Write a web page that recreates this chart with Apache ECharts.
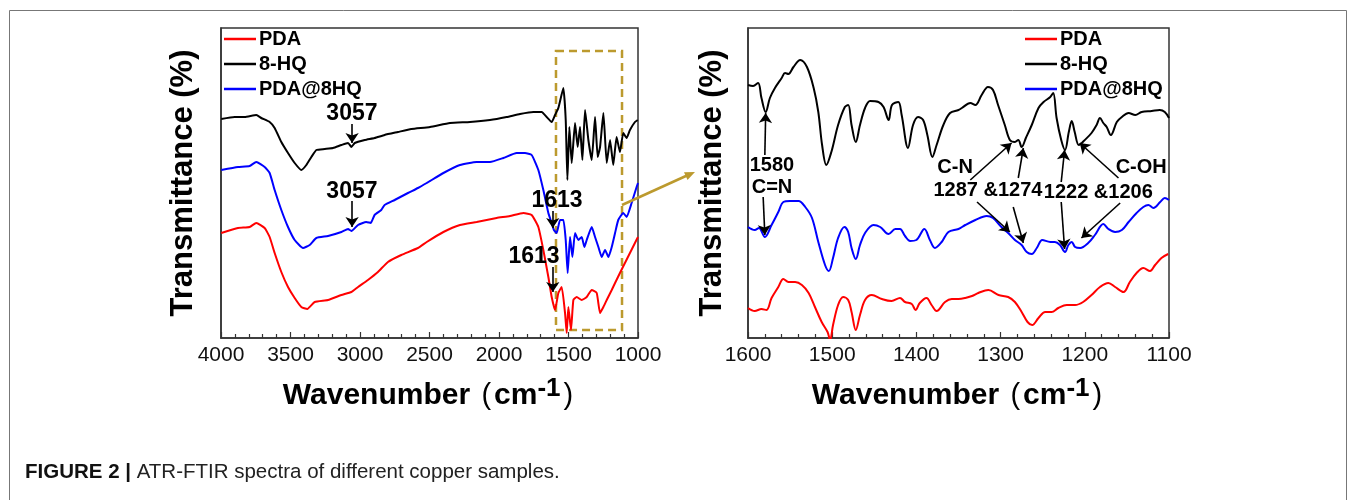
<!DOCTYPE html>
<html>
<head>
<meta charset="utf-8">
<script src="https://cdn.jsdelivr.net/npm/echarts@6/dist/echarts.min.js"></script>
<style>
	html, body { margin: 0; padding: 0; background: #fff; }
	#chart { width: 1355px; height: 500px; }
</style>
</head>
<body>
<div id="chart"></div>
<script>
// spectra: [wavenumber, transmittance (offset, a.u.)]
const seriesNames = ['PDA', '8-HQ', 'PDA@8HQ'];
const seriesColors = ['#ff0000', '#000000', '#0000ff'];

const fullPDA = [[3998,105],[3878,110],[3794,111],[3746,115],[3686,110],[3650,101],[3614,85],[3566,66],[3518,51],[3470,40],[3422,31],[3379,29],[3326,36],[3230,38],[3134,43],[3062,46],[3014,51],[2943,58],[2871,66],[2799,76],[2703,83],[2583,90],[2520,96],[2400,106],[2281,113],[2161,116],[2017,120],[1921,122],[1825,125],[1765,123],[1717,111],[1681,88],[1645,61],[1621,41],[1597,28],[1573,45],[1549,51],[1525,25],[1513,5],[1501,31],[1482,8],[1465,38],[1441,41],[1405,38],[1369,41],[1333,48],[1297,45],[1273,25],[1249,31],[1225,38],[1189,48],[1165,55],[1130,65],[1094,75],[1058,85],[1022,95],[1000,101]];
const fullHQ = [[3998,219],[3902,221],[3830,221],[3746,223],[3710,220],[3650,216],[3614,210],[3566,196],[3518,185],[3470,175],[3422,168],[3386,173],[3350,181],[3314,188],[3254,189],[3194,190],[3134,193],[3086,195],[3062,191],[3038,195],[2966,198],[2895,200],[2823,203],[2727,206],[2631,209],[2496,211],[2353,215],[2209,216],[2065,218],[1945,221],[1849,224],[1753,226],[1693,226],[1657,221],[1621,216],[1597,223],[1573,230],[1537,250],[1520,218],[1508,158],[1494,211],[1477,175],[1453,215],[1434,191],[1417,211],[1400,178],[1381,228],[1357,198],[1333,178],[1309,221],[1290,181],[1273,191],[1249,225],[1225,175],[1201,198],[1178,173],[1154,201],[1130,186],[1106,205],[1082,200],[1058,208],[1022,216],[1002,218]];
const fullMix = [[3998,168],[3878,171],[3794,172],[3746,176],[3686,171],[3650,165],[3614,148],[3566,128],[3518,111],[3470,98],[3410,90],[3362,93],[3314,100],[3230,102],[3134,106],[3086,109],[3062,107],[3014,113],[2955,116],[2923,115],[2895,123],[2847,128],[2823,133],[2751,138],[2655,145],[2583,150],[2520,155],[2400,165],[2281,173],[2161,176],[2065,176],[1969,180],[1873,185],[1813,185],[1765,183],[1717,168],[1681,148],[1645,125],[1621,115],[1605,108],[1585,105],[1561,118],[1537,118],[1520,98],[1506,65],[1489,101],[1472,81],[1453,105],[1429,98],[1405,101],[1386,91],[1369,98],[1333,111],[1309,101],[1285,91],[1261,81],[1237,88],[1213,81],[1189,91],[1165,105],[1142,118],[1106,125],[1082,121],[1046,135],[1010,151],[1000,155]];

const zoomPDA = [[1600,30],[1592,27],[1584,29],[1578,28],[1572,40],[1564,51],[1558,59],[1552,56],[1544,56],[1536,53],[1528,45],[1520.5,31],[1512.5,16],[1505.5,6],[1502.5,-2],[1499,13],[1493,33],[1487,41],[1481,38],[1477,26],[1472,8],[1467,23],[1461,38],[1453,43],[1441,39],[1429.5,37],[1419.5,40],[1413.5,36],[1405.5,34],[1401,28],[1396,35],[1388,40],[1382,33],[1376,27],[1366,36],[1358,39],[1350,39],[1342,40],[1334,42],[1326.5,45],[1314.5,48],[1302.5,43],[1291,41],[1283,36],[1275,26],[1268,16],[1262.5,13],[1255,20],[1247,26],[1239.5,26],[1231.5,30],[1221.5,33],[1211.5,33],[1202,36],[1192,43],[1182,51],[1172,55],[1164,51],[1154,46],[1146.5,56],[1138.5,65],[1130.5,70],[1122.5,67],[1116.5,73],[1109,80],[1101,84]];
const zoomHQ = [[1600,253],[1594,252],[1588,255],[1584,240],[1579,226],[1574,240],[1568,250],[1560,260],[1556,265],[1552,264],[1546,271],[1538,278],[1530,271],[1522,250],[1516.5,226],[1512,193],[1507,173],[1501,186],[1493,213],[1485,231],[1481,233],[1477,213],[1472,196],[1467,213],[1461,230],[1455,237],[1445,236],[1439,231],[1433,218],[1429,233],[1421.5,236],[1417.5,223],[1410,190],[1404,213],[1398,221],[1392,218],[1387,203],[1381,181],[1376,193],[1368,213],[1360,225],[1350,228],[1346,230],[1336,235],[1330,233],[1322.5,243],[1315,251],[1309,248],[1303,233],[1295,213],[1289,198],[1283,196],[1279,198],[1275,191],[1270,200],[1263,213],[1255,230],[1249,236],[1241,241],[1237.5,245],[1233.5,220],[1228,198],[1223.5,188],[1219,206],[1215.5,217],[1212,206],[1207,193],[1200,198],[1192,205],[1186,213],[1182,220],[1178,215],[1174,211],[1169,203],[1162,216],[1156,221],[1148,225],[1140,223],[1132.5,226],[1120.5,227],[1111,228],[1105,226],[1100,220]];
const zoomMix = [[1600,111],[1592,108],[1587,110],[1580,101],[1572,113],[1564,126],[1558,136],[1550,137],[1540,137],[1532,131],[1524,120],[1516.5,96],[1508.5,73],[1504,67],[1499,80],[1493,100],[1485.5,111],[1481,106],[1477,90],[1472,79],[1467,93],[1461,105],[1451,113],[1443,111],[1433,104],[1425,109],[1419.5,109],[1413.5,102],[1407.5,97],[1400,98],[1390.5,109],[1384,98],[1378,90],[1370,96],[1362,106],[1350,109],[1342,113],[1330,118],[1316.5,122],[1309,120],[1299,111],[1291,105],[1283,98],[1275,93],[1269,86],[1263,84],[1257,90],[1250.5,98],[1241,96],[1235.5,96],[1229.5,93],[1223.5,86],[1219.5,93],[1215.5,96],[1211.5,91],[1205.5,90],[1196,95],[1188,103],[1178,114],[1172,109],[1164,106],[1156,108],[1148,116],[1138.5,125],[1130.5,131],[1124.5,133],[1118.5,130],[1110.5,136],[1105,140],[1100,138]];

// annotations in data coordinates
const fullLabels = [['3057',[3058,224]],['3057',[3058,146]],['1613',[1583,137]],['1613',[1748,81]]];
const fullArrows = [[[3057,214],[3057,195]],[[3057,137],[3057,111]],[[1613,127],[1613,110]],[[1613,71],[1613,46]]];
const zoomBox = [[1590,287],[1115,8]];
const zoomLabels = [['1580',[1571.5,173]],['C=N',[1571.5,151]],['C-N',[1354,171]],['1287 &1274',[1315,148]],['1222 &1206',[1184,146]],['C-OH',[1133,171]]];
const zoomArrows = [[[1580,183],[1579,225]],[[1582,141],[1580,103]],[[1336,158],[1287,195]],[[1279,160],[1273,190]],[[1328,136],[1289,106]],[[1285,131],[1273,95]],[[1228,156],[1224,188]],[[1228,136],[1224,89]],[[1160,160],[1206,195]],[[1158,135],[1204,100]]];

const FONT = 'Liberation Sans, Arial, sans-serif';
const GOLD = '#bc9a2e';

var chart = echarts.init(document.getElementById('chart'));

function labelPoints(list, size)
{
	return {
		silent: true,
		symbol: 'rect',
		symbolSize: 1,
		itemStyle: { color: 'rgba(0,0,0,0)' },
		label: {
			show: true, position: 'inside', formatter: '{b}',
			color: '#000', fontSize: size, fontWeight: 'bold', fontFamily: FONT
		},
		data: list.map(function (l) { return { name: l[0], coord: l[1] }; })
	};
}

function arrowLines(list)
{
	return {
		silent: true,
		symbol: ['none', 'arrow'],
		symbolSize: 10,
		itemStyle: { color: '#000' },
		label: { show: false },
		lineStyle: { color: '#000', width: 1.6, type: 'solid' },
		data: list.map(function (a) { return [{ coord: a[0] }, { coord: a[1] }]; })
	};
}

function xAxis(gridIndex, min, max, interval)
{
	return {
		type: 'value', gridIndex: gridIndex, min: min, max: max, interval: interval, inverse: true,
		name: 'Wavenumber {p|(}cm{s|-1}{p|)}', nameLocation: 'middle', nameGap: 38,
		nameTextStyle: {
			fontSize: 30, fontWeight: 'bold', color: '#000', fontFamily: FONT,
			rich: {
				s: { fontSize: 26, fontWeight: 'bold', color: '#000', verticalAlign: 'top', padding: [0, 0, 14, 0], fontFamily: FONT },
				p: { fontSize: 29, fontWeight: 'normal', color: '#000', fontFamily: FONT, padding: [0, 3, 0, 3] }
			}
		},
		axisLine: { show: true, onZero: false, lineStyle: { color: '#333', width: 1.5 } },
		axisTick: { show: true, inside: true, length: 6, lineStyle: { color: '#333', width: 1.2 } },
		minorTick: { show: true, splitNumber: 5, length: 4, lineStyle: { color: '#333', width: 1.2 } },
		axisLabel: { fontSize: 21, color: '#111', margin: 7, fontFamily: FONT, formatter: function (v) { return String(v); } },
		splitLine: { show: false }
	};
}

function yAxis(gridIndex, gap)
{
	return {
		type: 'value', gridIndex: gridIndex, min: 0, max: 310,
		name: 'Transmittance (%)', nameLocation: 'middle', nameGap: gap, nameRotate: 90,
		nameTextStyle: { fontSize: 31, fontWeight: 'bold', color: '#000', fontFamily: FONT },
		axisLine: { show: true, lineStyle: { color: '#333', width: 1.5 } },
		axisTick: { show: false },
		axisLabel: { show: false },
		splitLine: { show: false }
	};
}

function line(name, idx, data, extra)
{
	var s = {
		name: name, type: 'line', xAxisIndex: idx, yAxisIndex: idx,
		data: data, symbol: 'none', smooth: idx === 1 ? 0.35 : 0.15,
		color: seriesColors[seriesNames.indexOf(name)],
		lineStyle: { width: 2 },
		clip: true, animation: false
	};
	return Object.assign(s, extra || {});
}

function legend(left)
{
	return {
		data: seriesNames, orient: 'vertical', left: left, top: 29,
		icon: 'rect', itemWidth: 32, itemHeight: 2.5, itemGap: 5, padding: 0,
		textStyle: { fontSize: 20, fontWeight: 'bold', color: '#000', fontFamily: FONT, padding: [0, 0, 0, -2] }
	};
}

var option = {
	backgroundColor: '#fff',
	animation: false,
	grid: [
		{ left: 221, top: 28, width: 417, height: 310, show: true, borderColor: '#333', borderWidth: 1.5 },
		{ left: 748, top: 28, width: 421, height: 310, show: true, borderColor: '#333', borderWidth: 1.5 }
	],
	xAxis: [xAxis(0, 1000, 4000, 500), xAxis(1, 1100, 1600, 100)],
	yAxis: [yAxis(0, 22), yAxis(1, 20)],
	legend: [legend(224), legend(1025)],
	series: [
		line('PDA', 0, fullPDA, {
			markArea: {
				silent: true,
				itemStyle: { color: 'rgba(0,0,0,0)', borderColor: GOLD, borderWidth: 2.5, borderType: [8, 5] },
				data: [[{ coord: zoomBox[0] }, { coord: zoomBox[1] }]]
			}
		}),
		line('8-HQ', 0, fullHQ, { markPoint: labelPoints(fullLabels, 23), markLine: arrowLines(fullArrows) }),
		line('PDA@8HQ', 0, fullMix),
		line('PDA', 1, zoomPDA),
		line('8-HQ', 1, zoomHQ, { markPoint: labelPoints(zoomLabels, 20), markLine: arrowLines(zoomArrows) }),
		line('PDA@8HQ', 1, zoomMix)
	],
	graphic: [
		{ type: 'rect', shape: { x: 9.5, y: 10.5, width: 1337, height: 560 }, style: { fill: 'none', stroke: '#777', lineWidth: 1 }, silent: true },
		{ type: 'polyline', shape: { points: [[622, 205], [687, 175.5]] }, style: { stroke: GOLD, lineWidth: 2.5, fill: 'none' }, silent: true, z: 10 },
		{ type: 'polygon', shape: { points: [[695, 172], [687.5, 180], [684, 172.3]] }, style: { fill: GOLD }, silent: true, z: 10 },
		{
			type: 'text', left: 25, top: 462, silent: true,
			style: {
				text: '{b|FIGURE 2 |} ATR-FTIR spectra of different copper samples.',
				fontSize: 20.5, fontFamily: FONT, fill: '#222',
				rich: { b: { fontSize: 20.5, fontWeight: 'bold', fontFamily: FONT, fill: '#111' } }
			}
		}
	]
};

chart.setOption(option);
</script>
</body>
</html>
